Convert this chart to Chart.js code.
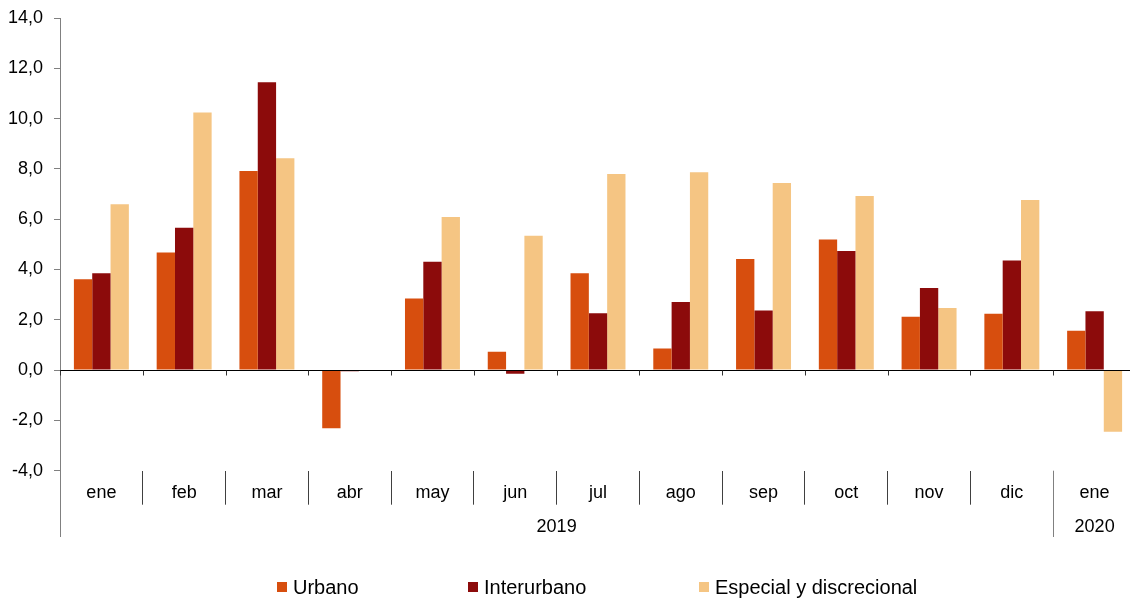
<!DOCTYPE html>
<html>
<head>
<meta charset="utf-8">
<script src="https://cdn.jsdelivr.net/npm/chart.js@4.4.1/dist/chart.umd.min.js"></script>
<style>
  html, body { margin: 0; padding: 0; overflow: hidden; background: #fff; }
  #wrap { width: 1136px; height: 598px; }
</style>
</head>
<body>
<div id="wrap"><canvas id="myChart"></canvas></div>
<script>
const months = ['ene', 'feb', 'mar', 'abr', 'may', 'jun', 'jul', 'ago', 'sep', 'oct', 'nov', 'dic', 'ene'];
const years = [
  { label: '2019', from: 0, to: 11 },
  { label: '2020', from: 12, to: 12 },
];

const urbano = [3.61, 4.68, 7.92, -2.31, 2.85, 0.73, 3.85, 0.86, 4.42, 5.19, 2.12, 2.24, 1.56];
const interurbano = [3.85, 5.66, 11.45, -0.05, 4.31, -0.15, 2.26, 2.71, 2.37, 4.74, 3.26, 4.36, 2.34];
const especial = [6.59, 10.24, 8.42, -0.03, 6.09, 5.34, 7.80, 7.87, 7.44, 6.92, 2.47, 6.76, -2.45];

const seriesNames = ['Urbano', 'Interurbano', 'Especial y discrecional'];
const seriesColors = ['#D74E0E', '#8C0B0B', '#F5C583'];

const yTicks = { min: -4, max: 14, step: 2 };

const font = 'Liberation Sans, Arial, sans-serif';

// Draws the zero line, its ticks, the year row and the legend.
const extrasPlugin = {
  id: 'extras',
  afterDraw(chart) {
    const ctx = chart.ctx;
    const x = chart.scales.x;
    const y = chart.scales.y;
    const area = chart.chartArea;
    const half = (x.getPixelForValue(1) - x.getPixelForValue(0)) / 2;
    const y0 = Math.round(y.getPixelForValue(0)) + 0.5;

    ctx.save();

    // Zero line over the bars, with small tick marks under it.
    ctx.strokeStyle = '#000';
    ctx.lineWidth = 1;
    ctx.beginPath();
    ctx.moveTo(area.left, y0);
    ctx.lineTo(area.right, y0);
    ctx.stroke();
    ctx.strokeStyle = '#333';
    for (let i = 0; i <= months.length; i++) {
      const bx = Math.round(x.getPixelForValue(i) - half) + 0.5;
      ctx.beginPath();
      ctx.moveTo(bx, y0);
      ctx.lineTo(bx, y0 + 5);
      ctx.stroke();
    }

    // Long separators for the year row.
    ctx.strokeStyle = '#808080';
    years.forEach((yr) => {
      const bx = Math.round(x.getPixelForValue(yr.from) - half) + 0.5;
      ctx.beginPath();
      ctx.moveTo(bx, area.bottom);
      ctx.lineTo(bx, 537);
      ctx.stroke();
    });

    // Year labels.
    ctx.fillStyle = '#000';
    ctx.font = '18px ' + font;
    ctx.textAlign = 'center';
    ctx.textBaseline = 'middle';
    years.forEach((yr) => {
      const left = x.getPixelForValue(yr.from) - half;
      const right = x.getPixelForValue(yr.to) + half;
      ctx.fillText(yr.label, (left + right) / 2, 527);
    });

    // Legend.
    const legendX = [277, 468, 699];
    const legendY = 587;
    ctx.font = '20px ' + font;
    ctx.textAlign = 'left';
    seriesNames.forEach((name, i) => {
      ctx.fillStyle = seriesColors[i];
      ctx.fillRect(legendX[i], legendY - 5, 10, 10);
      ctx.fillStyle = '#000';
      ctx.fillText(name, legendX[i] + 16, legendY + 1);
    });

    ctx.restore();
  },
};

const data = {
  labels: months,
  datasets: [urbano, interurbano, especial].map((values, i) => ({
    label: seriesNames[i],
    data: values,
    backgroundColor: seriesColors[i],
    borderWidth: 0,
    categoryPercentage: 0.664,
    barPercentage: 1,
  })),
};

const config = {
  type: 'bar',
  data: data,
  plugins: [extrasPlugin],
  options: {
    responsive: true,
    maintainAspectRatio: false,
    animation: false,
    layout: { padding: { top: 18, right: 0, bottom: 0, left: 0 } },
    plugins: {
      legend: { display: false },
      tooltip: { enabled: false },
    },
    scales: {
      x: {
        offset: true,
        border: { display: false },
        grid: {
          offset: true,
          drawOnChartArea: false,
          drawTicks: true,
          tickLength: 34,
          color: '#404040',
        },
        ticks: {
          padding: -22,
          autoSkip: false,
          maxRotation: 0,
          color: '#000',
          font: { family: font, size: 18 },
        },
        afterFit(scale) {
          scale.height = 127.3;
        },
      },
      y: {
        min: yTicks.min,
        max: yTicks.max,
        border: { display: true, color: '#808080' },
        grid: {
          color: 'rgba(0,0,0,0)',
          tickColor: '#808080',
          tickLength: 6,
        },
        ticks: {
          stepSize: yTicks.step,
          padding: 11,
          color: '#000',
          font: { family: font, size: 18 },
          callback: (v) => v.toFixed(1).replace('.', ','),
        },
        afterFit(scale) {
          scale.width = 60;
          scale.paddingTop = 0;
          scale.paddingBottom = 0;
        },
      },
    },
  },
};

const myChart = new Chart(document.getElementById('myChart'), config);
</script>
</body>
</html>
